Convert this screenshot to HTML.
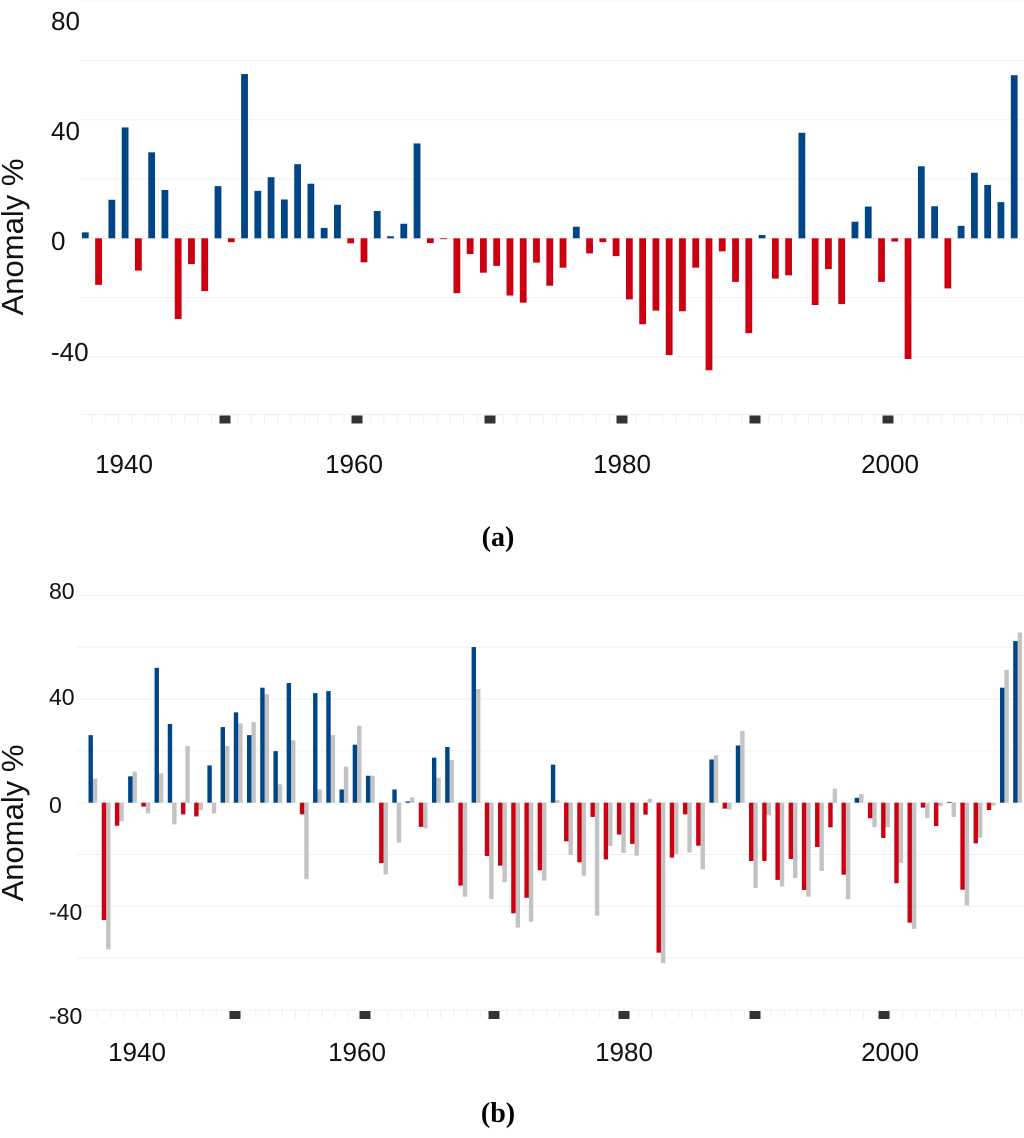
<!DOCTYPE html>
<html><head><meta charset="utf-8"><style>
html,body{margin:0;padding:0;background:#fff;}
svg{display:block;font-family:"Liberation Sans",Arial,sans-serif;}
</style></head><body>
<svg id="chart" xmlns="http://www.w3.org/2000/svg" width="1024" height="1138" viewBox="0 0 1024 1138">
<g id="pa"></g>
<g id="pb"></g>
<text x="498" y="546" text-anchor="middle" font-family="Liberation Serif,serif" font-weight="bold" font-size="28">(a)</text>
<text x="498" y="1122" text-anchor="middle" font-family="Liberation Serif,serif" font-weight="bold" font-size="28">(b)</text>
</svg>
<script>
const firstYear = 1937;
const valuesA = [2,-15.7,13,37.4,-10.9,29,16.3,-27.2,-8.7,-17.8,17.6,-1.3,55.4,16,20.6,13.1,25,18.4,3.5,11.3,-1.7,-8.1,9.2,0.7,4.9,32,-1.6,-0.3,-18.5,-5.3,-11.6,-9.3,-19.3,-21.7,-8.2,-16,-9.9,3.9,-5.1,-1.3,-6,-20.6,-29,-24.4,-39.4,-24.6,-9.9,-44.5,-4.4,-14.7,-32,1.1,-13.6,-12.5,35.6,-22.5,-10.4,-22.2,5.6,10.7,-14.7,-1.1,-40.7,24.3,10.8,-16.9,4.2,22.1,18,12.2,55];
const valuesB = [26.1,-45.3,-8.9,10.2,-1.5,52.1,30.4,-4.5,-5.3,14.4,29.2,34.9,26.1,44.4,19.9,46.2,-4.5,42.3,43.1,5.1,22.4,10.4,-23.3,5.1,0.5,-9.3,17.4,21.5,-32,60.1,-20.6,-24.3,-42.7,-36.7,-26.1,14.7,-14.9,-23,-5.5,-21.9,-12.3,-15.9,-4.6,-57.9,-21.2,-4.5,-16.6,16.7,-2.3,22.1,-22.5,-22.5,-29.8,-21.7,-33.7,-17.1,-9.5,-27.8,1.9,-6,-13.6,-31.1,-46.3,-1.9,-9,0.3,-33.6,-15.7,-2.8,44.4,62.4];
const greyB = [9.3,-56.6,-7.2,12,-4.1,11.3,-8.4,21.9,-2.8,-4.1,21.9,30.6,31.1,41.9,7.1,24.1,-29.5,5.1,26.1,13.9,29.7,10.4,-27.7,-15.4,2.1,-9.9,9.6,16.5,-36.3,43.9,-37.2,-30.7,-48.2,-45.9,-30.1,1,-20.2,-28.2,-43.6,-16.7,-19.4,-20.4,1.5,-62,-19.8,-19.2,-25.7,18.3,-2.6,27.7,-32.9,-4.9,-32.4,-29.1,-36.3,-26.4,5.4,-37.3,3.3,-9.4,-9.5,-23.2,-48.7,-5.9,-1.3,-5.5,-39.7,-13.5,-1.2,51.3,65.7];
const yTicksA = [80,40,0,-40];
const yTicksB = [80,40,0,-40,-80];
const gridA = [80,60,40,20,0,-20,-40];
const gridB = [80,60,40,20,0,-20,-40,-60];
const decadeLabels = [1940,1960,1980,2000];

const NS='http://www.w3.org/2000/svg';
function mk(parent,tag,attrs){const e=document.createElementNS(NS,tag);for(const k in attrs)e.setAttribute(k,attrs[k]);parent.appendChild(e);return e;}
const BLUE='#004687', RED='#cc0010', GREY='#c3c3c3';

const xA = i => 85.3 + 13.27*i;
const yA = v => 238.3 - v*2.965;
const xB = i => 90.7 + 13.21*i;
const yB = v => 802.7 - v*2.59;

function panel(g, cfg){
  cfg.grid.forEach(v=>{
    const l=mk(g,'line',{x1:cfg.gx,x2:1024,y1:cfg.y(v),y2:cfg.y(v),stroke:'#f0f0f0','stroke-width':1});
    
    
  });
  const sl=mk(g,'line',{x1:cfg.gx,x2:1024,y1:cfg.stripY,y2:cfg.stripY,stroke:'#f0f0f0','stroke-width':1});
  
  
  for(let n=0;n<72;n++){
    const x=cfg.minorX(n); if(x>1022)break;
    const t=mk(g,'line',{x1:x,x2:x,y1:cfg.stripY,y2:cfg.stripY+8,stroke:'#eeeeee','stroke-width':1});
    
    
  }
  cfg.squares.forEach(x=>{
    const r=mk(g,'rect',{x:x-5.5,y:cfg.stripY+1,width:11,height:8,fill:'#333'});
    
    
  });
  cfg.yTicks.forEach((v,k)=>{
    const t=mk(g,'text',{x:cfg.lx,y:cfg.labelY[k],'font-size':cfg.fs,fill:'#111','dominant-baseline':'middle'});
    t.textContent=v;
    
    
  });
  decadeLabels.forEach((v,k)=>{
    const t=mk(g,'text',{x:cfg.decX[k],y:cfg.decY,'font-size':26,fill:'#111','text-anchor':'middle','dominant-baseline':'middle'});
    t.textContent=v;
    
    
  });
  const tt=mk(g,'text',{x:0,y:0,'font-size':31,fill:'#111','text-anchor':'middle','dominant-baseline':'middle',transform:`translate(15,${cfg.titleY}) rotate(-90)`});
  tt.textContent='Anomaly %';
  
  
}

const ga=document.getElementById('pa');
panel(ga,{grid:gridA,gx:80,y:yA,stripY:414.5,minorX:n=>92+13.27*n,squares:[225,357,490,622,755,888],
  yTicks:yTicksA,lx:51,labelY:[23,133,243,354],fs:26,decX:[124,354,622,890],decY:466,titleY:237});
valuesA.forEach((v,i)=>{
  const y0=yA(0), y1=yA(v);
  const r=mk(ga,'rect',{x:xA(i)-3.4,y:Math.min(y0,y1),width:6.8,height:Math.max(Math.abs(y1-y0),0.8),fill:v>=0?BLUE:RED});
  
  
});

const gb=document.getElementById('pb');
panel(gb,{grid:gridB,gx:77,y:yB,stripY:1010,minorX:n=>97.3+13.21*n,squares:[235,365,494,624,755,884],
  yTicks:yTicksB,lx:49,labelY:[593,699,807,914,1018],fs:23,decX:[137,357,624,890],decY:1054,titleY:823});
valuesB.forEach((v,i)=>{
  const y0=yB(0), y1=yB(greyB[i]);
  const r=mk(gb,'rect',{x:xB(i)+2.2,y:Math.min(y0,y1),width:4.4,height:Math.max(Math.abs(y1-y0),0.8),fill:GREY});
  
  
});
valuesB.forEach((v,i)=>{
  const y0=yB(0), y1=yB(v);
  const r=mk(gb,'rect',{x:xB(i)-2.2,y:Math.min(y0,y1),width:4.4,height:Math.max(Math.abs(y1-y0),0.8),fill:v>=0?BLUE:RED});
  
  
});
</script>
</body></html>
